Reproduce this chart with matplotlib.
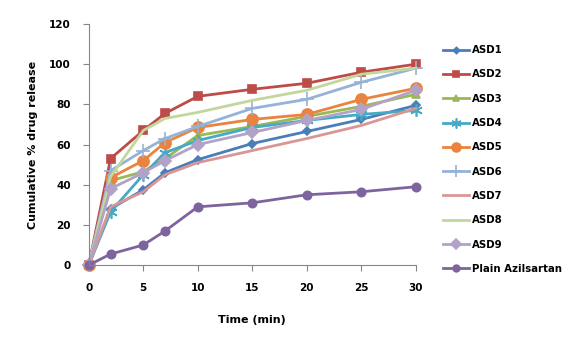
import matplotlib.pyplot as plt

time = [0, 2, 5, 7, 10, 15, 20, 25, 30]

asd1 = [0, 28, 37.5, 46, 52.5, 60.5, 66.5, 72.5, 79.5]
asd2 = [0, 53, 67, 75.5, 84, 87.5, 90.5, 96, 100]
asd3 = [0, 42, 46.5, 53, 64.5, 69, 74, 79, 85]
asd4 = [0, 26.5, 45, 56, 62, 68.5, 72, 75, 77]
asd5 = [0, 43.5, 52, 61, 68.5, 72.5, 75, 82.5, 88]
asd6 = [0, 47, 57, 63, 69, 78, 82.5, 91, 98]
asd7 = [0, 29, 36.5, 45, 51, 57, 63, 69.5, 78]
asd8 = [0, 44, 67, 73, 76, 82, 87, 95, 98]
asd9 = [0, 38, 46, 52, 60, 66, 72, 77.5, 87]
plain = [0, 5.5, 10, 17, 29, 31, 35, 36.5, 39]

series = [
    ('ASD1', asd1, '#4A7EBB', 'D', 4),
    ('ASD2', asd2, '#BE4B48', 's', 6),
    ('ASD3', asd3, '#98B954', '^', 6),
    ('ASD4', asd4, '#46AAC5', (6, 2, 0), 9),
    ('ASD5', asd5, '#E8843F', 'o', 8),
    ('ASD6', asd6, '#95B3D7', '+', 10),
    ('ASD7', asd7, '#D99694', None, 0),
    ('ASD8', asd8, '#C3D69B', None, 0),
    ('ASD9', asd9, '#B3A2C7', 'D', 6),
    ('Plain Azilsartan', plain, '#7E649E', 'o', 6),
]

plt.rcParams['font.family'] = ['DejaVu Sans']
fig = plt.figure(figsize=(5.84, 3.53), dpi=100)
ax = fig.add_axes([0.152, 0.249, 0.56, 0.683])

for name, vals, col, mk, ms in series:
    ax.plot(time, vals, color=col, lw=2.0, marker=mk, markersize=ms,
            markeredgecolor=col, markeredgewidth=1.2, label=name, clip_on=False)

ax.set_xlim(0, 30)
ax.set_ylim(0, 120)
ax.set_xticks([0, 5, 10, 15, 20, 25, 30])
ax.set_yticks(range(0, 121, 20))
for s in ['top', 'right']:
    ax.spines[s].set_visible(False)
for s in ['left', 'bottom']:
    ax.spines[s].set_color('#868686')
ax.tick_params(axis='both', colors='#868686', direction='out', length=4,
               labelsize=7.5, labelcolor='black', pad=9)
for lb in ax.get_xticklabels() + ax.get_yticklabels():
    lb.set_fontweight('bold')
ax.set_xlabel('Time (min)', fontsize=8, fontweight='bold', labelpad=16)
ax.set_ylabel('Cumulative % drug release', fontsize=8, fontweight='bold', labelpad=8)

leg = ax.legend(loc='upper left', bbox_to_anchor=(1.055, 0.95), frameon=False,
                prop={'size': 7.3, 'weight': 'bold'}, labelspacing=1.41,
                handlelength=2.6, handletextpad=0.3, markerscale=0.8)

fig.savefig('out.png', dpi=100)
